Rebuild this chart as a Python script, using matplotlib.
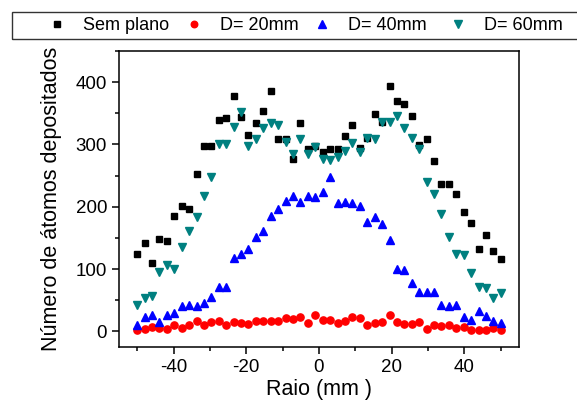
import numpy as np
import matplotlib
matplotlib.use("Agg")
import matplotlib.pyplot as plt
from matplotlib.ticker import MultipleLocator
from matplotlib.patches import Rectangle

plt.rcParams['font.family'] = ['Liberation Sans', 'DejaVu Sans']
plt.rcParams['axes.unicode_minus'] = False

# 50 radial bins between -50 and 50 mm
raio = np.linspace(-50, 50, 50)

sem_plano = [125, 142, 109, 149, 145, 185, 201, 196, 253, 297,
             297, 339, 343, 377, 344, 316, 335, 353, 386, 309,
             308, 277, 335, 293, 297, 288, 293, 293, 313, 332,
             295, 311, 349, 336, 394, 370, 365, 345, 299, 308,
             274, 236, 236, 220, 192, 174, 133, 154, 129, 116]

d20 = [3, 4, 7, 6, 4, 10, 6, 11, 17, 11,
       15, 16, 11, 15, 14, 12, 16, 17, 17, 17,
       22, 20, 23, 13, 26, 18, 19, 13, 17, 23,
       22, 10, 13, 15, 27, 15, 12, 12, 15, 4,
       11, 8, 11, 6, 7, 3, 3, 3, 6, 2]

d40 = [10, 23, 26, 15, 26, 29, 41, 42, 41, 45,
       55, 72, 72, 118, 125, 132, 152, 161, 185, 196,
       209, 217, 208, 217, 215, 224, 248, 206, 207, 206,
       202, 175, 184, 172, 146, 100, 98, 78, 63, 63,
       64, 43, 41, 43, 23, 19, 32, 24, 17, 14]

d60 = [42, 53, 57, 96, 107, 100, 136, 161, 184, 217,
       248, 300, 300, 328, 352, 298, 308, 326, 334, 331,
       304, 285, 308, 285, 296, 276, 275, 280, 289, 303,
       288, 311, 308, 336, 336, 345, 327, 310, 293, 240,
       221, 188, 152, 124, 122, 94, 71, 69, 53, 62]

labels = ['Sem plano', 'D= 20mm', 'D= 40mm', 'D= 60mm']

W, H = 577, 403
fig = plt.figure(figsize=(W / 100, H / 100), dpi=100)
ax = fig.add_axes([119/W, 1 - 347/H, 400/W, 296/H])

h1, = ax.plot(raio, sem_plano, 's', color='black', ms=4.6, label=labels[0])
h2, = ax.plot(raio, d20, 'o', color='red', ms=5.2, label=labels[1])
h3, = ax.plot(raio, d40, '^', color='blue', ms=6, label=labels[2])
h4, = ax.plot(raio, d60, 'v', color='#008080', ms=6, label=labels[3])

ax.set_xlim(-55, 55)
ax.set_ylim(-25, 450)
ax.xaxis.set_major_locator(MultipleLocator(20))
ax.xaxis.set_minor_locator(MultipleLocator(10))
ax.yaxis.set_minor_locator(MultipleLocator(50))
ax.set_yticks([0, 100, 200, 300, 400])
ax.tick_params(which='both', direction='out', top=False, right=False, labelsize=13.5, width=1.1)
ax.tick_params(which='major', length=5)
ax.tick_params(which='minor', length=3)
for s in ax.spines.values():
    s.set_linewidth(1.1)

ax.set_xlabel('Raio (mm )', fontsize=15.5, labelpad=2)
ax.set_ylabel('Número de átomos depositados', fontsize=15.5, labelpad=10)

# legend entries placed one by one (uneven spacing as in the original), shared box
marker_px = [57, 194, 322, 458]
for h, lab, mx in zip([h1, h2, h3, h4], labels, marker_px):
    fig.legend([h], [lab], loc='center left', bbox_to_anchor=((mx - 18) / W, 1 - 25.5/H),
               fontsize=13, numpoints=1, frameon=False, borderpad=0,
               handlelength=2.0, handletextpad=0.46, borderaxespad=0, markerscale=0.9)
fig.patches.append(Rectangle((12/W, 1 - 39/H), 600/W, 27/H, transform=fig.transFigure,
                             fill=False, edgecolor='#333333', linewidth=1.0))

fig.savefig('out.png', dpi=100)
